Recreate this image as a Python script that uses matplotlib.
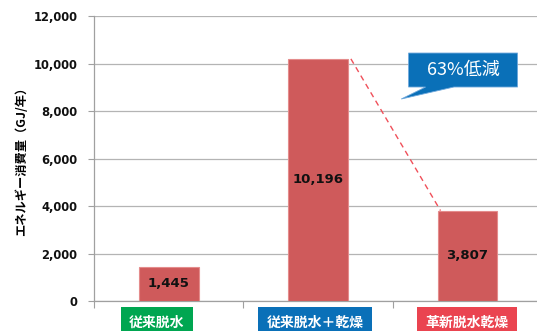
import matplotlib.pyplot as plt
from matplotlib.patches import Polygon

plt.rcParams['font.family'] = ['DejaVu Sans', 'Noto Sans CJK JP']

categories = ['従来脱水', '従来脱水＋乾燥', '革新脱水乾燥']
values = [1445, 10196, 3807]
label_colors = ['#00A651', '#0A70B8', '#EA4450']
label_offsets = [-0.08, -0.02, 0.0]
reduction_text = '63%低減'
yticks = [0, 2000, 4000, 6000, 8000, 10000, 12000]

fig = plt.figure(figsize=(5.37, 3.31), dpi=100)
ax = fig.add_axes([0.175, 0.0906, 0.825, 0.861])

x = list(range(len(categories)))
bar_w = 0.40
ax.bar(x, values, width=bar_w, color='#CF5A5B', edgecolor='#E48C8C',
       linewidth=0.8, zorder=3)

# values printed in the middle of each bar
for xi, v in zip(x, values):
    ax.text(xi, v / 2, f'{v:,}', ha='center', va='center',
            fontsize=9.5, fontweight='bold', color='#111111', zorder=4)

# dashed connector between the 2nd and 3rd bar tops
ax.plot([x[1] + bar_w / 2 + 0.02, x[2] - bar_w / 2 + 0.02],
        [values[1], values[2]], ls=(0, (4, 3)), color='#F0505A',
        lw=1.0, zorder=4)

ax.set_xlim(-0.5, 2.466)
ax.set_ylim(0, 12000)
ax.set_yticks(yticks)
ax.set_yticklabels([f'{t:,}' for t in yticks], fontsize=8.3,
                   fontweight='bold', color='#111111')
ax.grid(axis='y', color='#B4B4B4', lw=0.9, zorder=0)
ax.tick_params(axis='y', length=4, width=0.8, color='#A0A0A0', pad=8)
ax.set_xticks([-0.5, 0.5, 1.5])
ax.set_xticklabels([])
ax.tick_params(axis='x', length=5, width=0.8, color='#A0A0A0')
for side in ['top', 'right']:
    ax.spines[side].set_visible(False)
for side in ['left', 'bottom']:
    ax.spines[side].set_color('#A0A0A0')
    ax.spines[side].set_linewidth(0.9)

ax.set_ylabel('エネルギー消費量（GJ/年）', fontsize=8.8, fontweight='bold',
              family=['Noto Sans CJK JP'], labelpad=10)
ax.yaxis.set_label_coords(-0.148, 0.5)

# coloured category labels under the axis
for xi, name, c, off in zip(x, categories, label_colors, label_offsets):
    ax.text(xi + off, -900, name, ha='center', va='center', fontsize=10,
            fontweight='bold', color='white', family=['Noto Sans CJK JP'],
            bbox=dict(boxstyle='square,pad=0.6', fc=c, ec='none'),
            clip_on=False, zorder=5)

# speech-bubble callout
box_x0, box_x1 = 1.606, 2.336
box_y0, box_y1 = 9011, 10442
callout = Polygon([(box_x0, box_y1), (box_x1, box_y1), (box_x1, box_y0),
                   (1.91, box_y0), (1.557, 8505), (1.72, box_y0),
                   (box_x0, box_y0)], closed=True, fc='#0A70B8',
                  ec='#6FA8DC', lw=0.6, zorder=5)
ax.add_patch(callout)
ax.text((box_x0 + box_x1) / 2, (box_y0 + box_y1) / 2, reduction_text,
        ha='center', va='center', fontsize=13, color='white',
        family=['Noto Sans CJK JP'], zorder=6)

fig.savefig('out.png', dpi=100, facecolor='white')
